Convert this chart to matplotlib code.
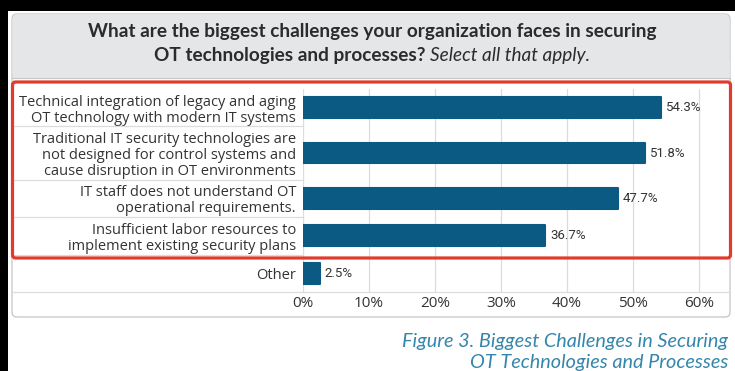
import matplotlib
matplotlib.use('Agg')
import matplotlib.pyplot as plt
from matplotlib.patches import Rectangle, FancyBboxPatch
from matplotlib.lines import Line2D

plt.rcParams['font.family'] = ['Open Sans', 'DejaVu Sans']

# ---- data ----
categories = [
    'Technical integration of legacy and aging\nOT technology with modern IT systems',
    'Traditional IT security technologies are\nnot designed for control systems and\ncause disruption in OT environments',
    'IT staff does not understand OT\noperational requirements.',
    'Insufficient labor resources to\nimplement existing security plans',
    'Other',
]
values = [54.3, 51.8, 47.7, 36.7, 2.5]
xticks = [0, 10, 20, 30, 40, 50, 60]
xtick_labels = ['0%', '10%', '20%', '30%', '40%', '50%', '60%']

title_1 = 'What are the biggest challenges your organization faces in securing'
title_2a = 'OT technologies and processes? '
title_2b = 'Select all that apply.'
caption = 'Figure 3. Biggest Challenges in Securing\nOT Technologies and Processes'

# colors
BAR = '#0b5a84'
RED = '#e03b2e'
HEAD = '#e5e6e8'
GRID = '#dcdcdc'
TXT = '#333333'
TEAL = '#3586ab'

W, H = 735, 371
fig = plt.figure(figsize=(W / 100, H / 100), dpi=100)
fig.patch.set_facecolor('white')


def fx(px):
    return px / W


def fy(py):
    return 1 - py / H


def inch_box(x0, y0, x1, y1):
    # pixel box (top-left origin) -> inches for dpi_scale_trans
    return x0 / 100, (H - y1) / 100, (x1 - x0) / 100, (y1 - y0) / 100


# black screenshot edges
fig.add_artist(Rectangle((0, 0), fx(8), 1, transform=fig.transFigure,
                         facecolor='black', edgecolor='none', zorder=0))
fig.add_artist(Rectangle((0, fy(11)), 1, 1, transform=fig.transFigure,
                         facecolor='black', edgecolor='none', zorder=0))

# card body
x, y, w, h = inch_box(12, 14, 730, 317)
fig.add_artist(FancyBboxPatch((x, y), w, h, transform=fig.dpi_scale_trans,
                              boxstyle='round,pad=0,rounding_size=0.05',
                              facecolor='white', edgecolor='#c4c4c4', lw=0.9, zorder=0.5))
# header band
x, y, w, h = inch_box(12.5, 14, 729.5, 78)
fig.add_artist(FancyBboxPatch((x, y), w, h, transform=fig.dpi_scale_trans,
                              boxstyle='round,pad=0,rounding_size=0.05',
                              facecolor=HEAD, edgecolor='none', zorder=0.6))
x, y, w, h = inch_box(12.5, 60, 729.5, 78)
fig.add_artist(Rectangle((x, y), w, h, transform=fig.dpi_scale_trans,
                         facecolor=HEAD, edgecolor='none', zorder=0.6))
fig.add_artist(Line2D([fx(12), fx(730)], [fy(78), fy(78)], transform=fig.transFigure,
                      color='#c8c8c8', lw=0.8, zorder=0.7))

# ---- chart axes ----
AX_L, AX_R, AX_T, AX_B = 303, 730, 89, 292
ax = fig.add_axes([fx(AX_L), fy(AX_B), fx(AX_R - AX_L), (AX_B - AX_T) / H])
ax.set_facecolor('none')
ax.set_zorder(2)

# row heights depend on label line count (layout only)
lines = [c.count('\n') + 1 for c in categories]
row_h = [16 * max(n, 2) + 6 for n in lines]
bounds = [0]
for rh in row_h:
    bounds.append(bounds[-1] + rh)
centers = [(bounds[i] + bounds[i + 1]) / 2 for i in range(len(row_h))]
total = bounds[-1]

bars = ax.barh(centers, values, height=21, color=BAR, edgecolor=BAR, lw=1.5, zorder=3)
for b in bars:
    b.set_joinstyle('round')

for c, v in zip(centers, values):
    ax.annotate(f'{v}%', (v, c), xytext=(3.5, 0), textcoords='offset points',
                ha='left', va='center', fontsize=9.5, color=TXT,
                family=['Roboto', 'DejaVu Sans'])

ax.set_ylim(total, 0)
ax.set_xlim(0, (AX_R - AX_L) / 6.6)
ax.set_yticks(centers)
ax.set_yticklabels(categories, fontsize=10.5, color=TXT, linespacing=1.1)
ax.set_xticks(xticks)
ax.set_xticklabels(xtick_labels, fontsize=11, color=TXT)
ax.tick_params(axis='both', length=0)
ax.tick_params(axis='y', pad=5)
ax.tick_params(axis='x', pad=3)
ax.xaxis.grid(True, color=GRID, lw=0.9)
ax.set_axisbelow(True)
for s in ax.spines.values():
    s.set_visible(False)

# row separators across label column
yt = ax.get_yaxis_transform()
left_frac = -(AX_L - 12) / (AX_R - AX_L)
for bnd in bounds[1:-1]:
    ax.add_line(Line2D([left_frac, 0], [bnd, bnd], transform=yt, color=GRID,
                       lw=0.9, clip_on=False))
ax.add_line(Line2D([left_frac, 1], [total, total], transform=yt, color=GRID,
                   lw=0.9, clip_on=False))

# red highlight box
x, y, w, h = inch_box(12.5, 82, 730.5, 258)
fig.add_artist(FancyBboxPatch((x, y), w, h, transform=fig.dpi_scale_trans,
                              boxstyle='round,pad=0,rounding_size=0.03',
                              facecolor='none', edgecolor=RED, lw=2.3, zorder=10))

# ---- title ----
TFONT = ['Lato', 'DejaVu Sans']
fig.text(fx(372), fy(31), title_1, ha='center', va='center', fontsize=13.7,
         fontweight='bold', color='#2b2b2b', family=TFONT)
t_a = fig.text(0, fy(56), title_2a, ha='left', va='center', fontsize=13.7,
               fontweight='bold', color='#2b2b2b', family=TFONT)
t_b = fig.text(0, fy(56), title_2b, ha='left', va='center', fontsize=13.7,
               style='italic', color='#2b2b2b', family=TFONT)
fig.canvas.draw()
r = fig.canvas.get_renderer()
wa = t_a.get_window_extent(r).width
wb = t_b.get_window_extent(r).width
x0 = 372 - (wa + wb) / 2
t_a.set_x(fx(x0))
t_b.set_x(fx(x0 + wa))

# ---- caption ----
fig.text(fx(728), fy(352), caption, ha='right', va='center', multialignment='right',
         fontsize=14.3, style='italic', color=TEAL, linespacing=1.25, family=TFONT)

fig.savefig('out.png', dpi=100, facecolor='white')
